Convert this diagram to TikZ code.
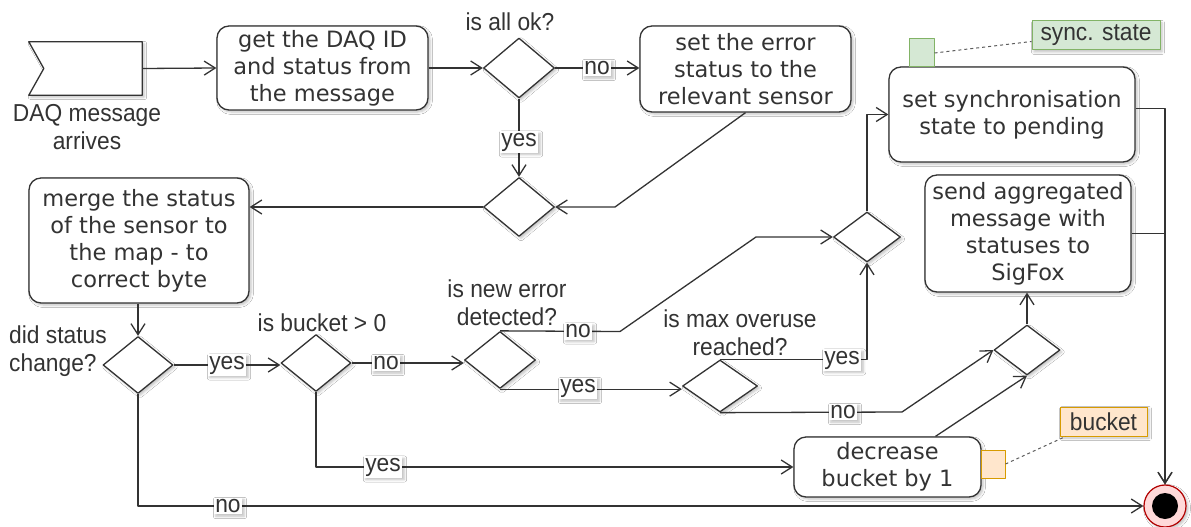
\documentclass[tikz,border=0pt]{standalone}
\usepackage{fontspec}
\setmainfont{DejaVu Sans}
\newfontfamily\tagfont[FakeStretch=0.93]{Liberation Sans}
\usetikzlibrary{arrows.meta,shapes.geometric,shadows.blur,calc}
\definecolor{ink}{HTML}{333333}
\definecolor{notegreen}{HTML}{D5E8D4}
\definecolor{notegreenline}{HTML}{82B366}
\definecolor{noteorange}{HTML}{FFE6CC}
\definecolor{noteorangeline}{HTML}{D79B00}
\begin{document}
\begin{tikzpicture}[x=1pt,y=-1pt,line join=round,
  soft/.style={blur shadow={shadow xshift=2pt,shadow yshift=-2pt,shadow blur radius=2.5pt,shadow opacity=25}},
  proc/.style={draw=ink,line width=1.3pt,rounded corners=12pt,fill=white,text=ink,align=center,
    inner sep=0pt,font=\fontsize{22.5}{27}\selectfont,soft},
  dec/.style={diamond,draw=ink,line width=1.3pt,fill=white,inner sep=0pt,soft},
  tag/.style={text=ink,align=center,inner sep=0pt,font=\tagfont\fontsize{24.5}{28}\selectfont},
  guard/.style={tag,fill=white,inner sep=1.5pt,soft},
  flow/.style={draw=ink,line width=1.3pt,-{Straight Barb[length=11pt,width=14pt]}},
  link/.style={draw=ink!80,line width=1pt,dash pattern=on 3pt off 3pt},
  pinbox/.style={line width=1pt,inner sep=0pt},
]
\fill[white] (0,0) rectangle (1191,527);
\useasboundingbox (0,0) rectangle (1191,527);

% incoming signal
\node[minimum width=113pt,minimum height=53pt,inner sep=0pt] (sig) at (85.5,68.5) {};
\draw[draw=ink,line width=1.3pt,fill=white,soft]
  (sig.north west) -- (sig.north east) -- (sig.south east) -- (sig.south west)
  -- ($(sig.west)+(15,0)$) -- cycle;
\node[tag] (sigtxt) at (87,127) {DAQ message\\arrives};

% actions
\node[proc,minimum width=211pt,minimum height=84pt] (box1) at (322.5,68)
  {get the DAQ ID\\and status from\\the message};
\node[proc,minimum width=211pt,minimum height=86pt] (box2) at (745.5,69)
  {set the error\\status to the\\relevant sensor};
\node[proc,minimum width=220pt,minimum height=125pt] (box5) at (139,240.5)
  {merge the status\\of the sensor to\\the map - to\\correct byte};
\node[proc,minimum width=246pt,minimum height=95pt] (box3) at (1012,114.5)
  {set synchronisation\\state to pending};
\node[proc,minimum width=206pt,minimum height=117pt] (box4) at (1028,233.5)
  {send aggregated\\message with\\statuses to\\SigFox};
\node[proc,minimum width=187pt,minimum height=60pt] (box6) at (887.5,467)
  {decrease\\bucket by 1};

% decisions
\node[dec,minimum width=71pt,minimum height=60pt] (d1) at (519,68) {};
\node[dec,minimum width=71pt,minimum height=59pt] (d2) at (519,207) {};
\node[dec,minimum width=70pt,minimum height=57pt] (d3) at (138,365) {};
\node[dec,minimum width=70pt,minimum height=57pt] (d4) at (316,363) {};
\node[dec,minimum width=71pt,minimum height=57pt] (d5) at (500,360) {};
\node[dec,minimum width=75pt,minimum height=52pt] (d7) at (720,386) {};
\node[dec,minimum width=67pt,minimum height=50pt] (d6) at (867,237) {};
\node[dec,minimum width=66pt,minimum height=50pt] (d8) at (1027,350) {};

% decision questions
\node[tag] (q1) at (510,22) {is all ok?};
\node[tag,align=left,anchor=west] (q3) at (9,351.5) {did status\\change?};
\node[tag] (q4) at (322,323) {is bucket > 0};
\node[tag] (q5) at (507,303) {is new error\\detected?};
\node[tag] (q7) at (740,333) {is max overuse\\reached?};

% final state
\node[circle,draw=red!70!black,fill=red!15,line width=1.2pt,minimum size=42pt,inner sep=0pt,soft] (endn) at (1165,506) {};
\node[circle,fill=black,minimum size=26pt,inner sep=0pt] (endc) at (endn.center) {};

% pins and notes
\node[pinbox,draw=notegreenline,fill=notegreen,minimum width=25pt,minimum height=28pt] (syncpin) at (921.5,53) {};
\node[tag,draw=notegreenline,fill=notegreen,line width=1pt,minimum width=128pt,minimum height=29pt,soft] (syncnote) at (1096,35.5) {sync. state};
\node[pinbox,draw=noteorangeline,fill=noteorange,minimum width=24pt,minimum height=28pt] (bucketpin) at (993,464) {};
\node[tag,draw=noteorangeline,fill=noteorange,line width=1pt,minimum width=87pt,minimum height=29pt,soft] (bucketnote) at (1103.5,421.5) {bucket};
\draw[link] (syncpin.east) -- ($(syncnote.west)+(0,6)$);
\draw[link] (bucketpin.east) -- ($(bucketnote.south west)+(6,0)$);

% bends
\coordinate (k1) at (615,207);
\coordinate (k2) at (620,331.5);
\coordinate (k3) at (756,237);
\coordinate (k4) at (902,412);
\coordinate (k5) at ($(box6.north)+(48,0)$);
\coordinate (k6) at ($(box3.east)+(0,-6)$);

% connectors
\draw[flow] (sig.east) -- (box1.west);
\draw[flow] (box1.east) -- (d1.west);
\draw[flow] (d1.east) -- (d1.east -| box2.west);
\draw[flow] (d1.south) -- (d2.north);
\draw[flow] (box2.south) -- (k1) -- (d2.east);
\draw[flow] (d2.west) -- (d2.west -| box5.east);
\draw[flow] (box5.south -| d3.north) -- (d3.north);
\draw[flow] (d3.east) -- (d3.east -| d4.west);
\draw[flow] (d3.south) |- (endn.west);
\draw[flow] (d4.east) -- (d4.east -| d5.west);
\draw[flow] (d4.south) |- (box6.west);
\draw[flow] (d5.north) -- (k2) -- (k3) -- (d6.west);
\draw[flow] (d5.south) -- (d5.south -| d7.west);
\draw[flow] (d7.north) -| (d6.south);
\draw[flow] (d7.south) -- (k4) -- (d8.west);
\draw[flow] (k5) -- (d8.south);
\draw[flow] (d6.north) |- (box3.west);
\draw[flow] (d8.north) -- (d8.north |- box4.south);
\draw[flow] (k6) -| (endn.north);
\draw[flow] (box4.east) -| (endn.north);

% guards on the connectors
\node[guard] (g1) at (597,68) {no};
\node[guard] (g2) at (519,142) {yes};
\node[guard] (g3) at (227,365) {yes};
\node[guard] (g4) at (386,363) {no};
\node[guard] (g5) at (578,331.5) {no};
\node[guard] (g6) at (578,388.5) {yes};
\node[guard] (g7) at (842,360) {yes};
\node[guard] (g8) at (843,412) {no};
\node[guard] (g9) at (383,467) {yes};
\node[guard] (g10) at (228,506) {no};
\end{tikzpicture}
\end{document}
